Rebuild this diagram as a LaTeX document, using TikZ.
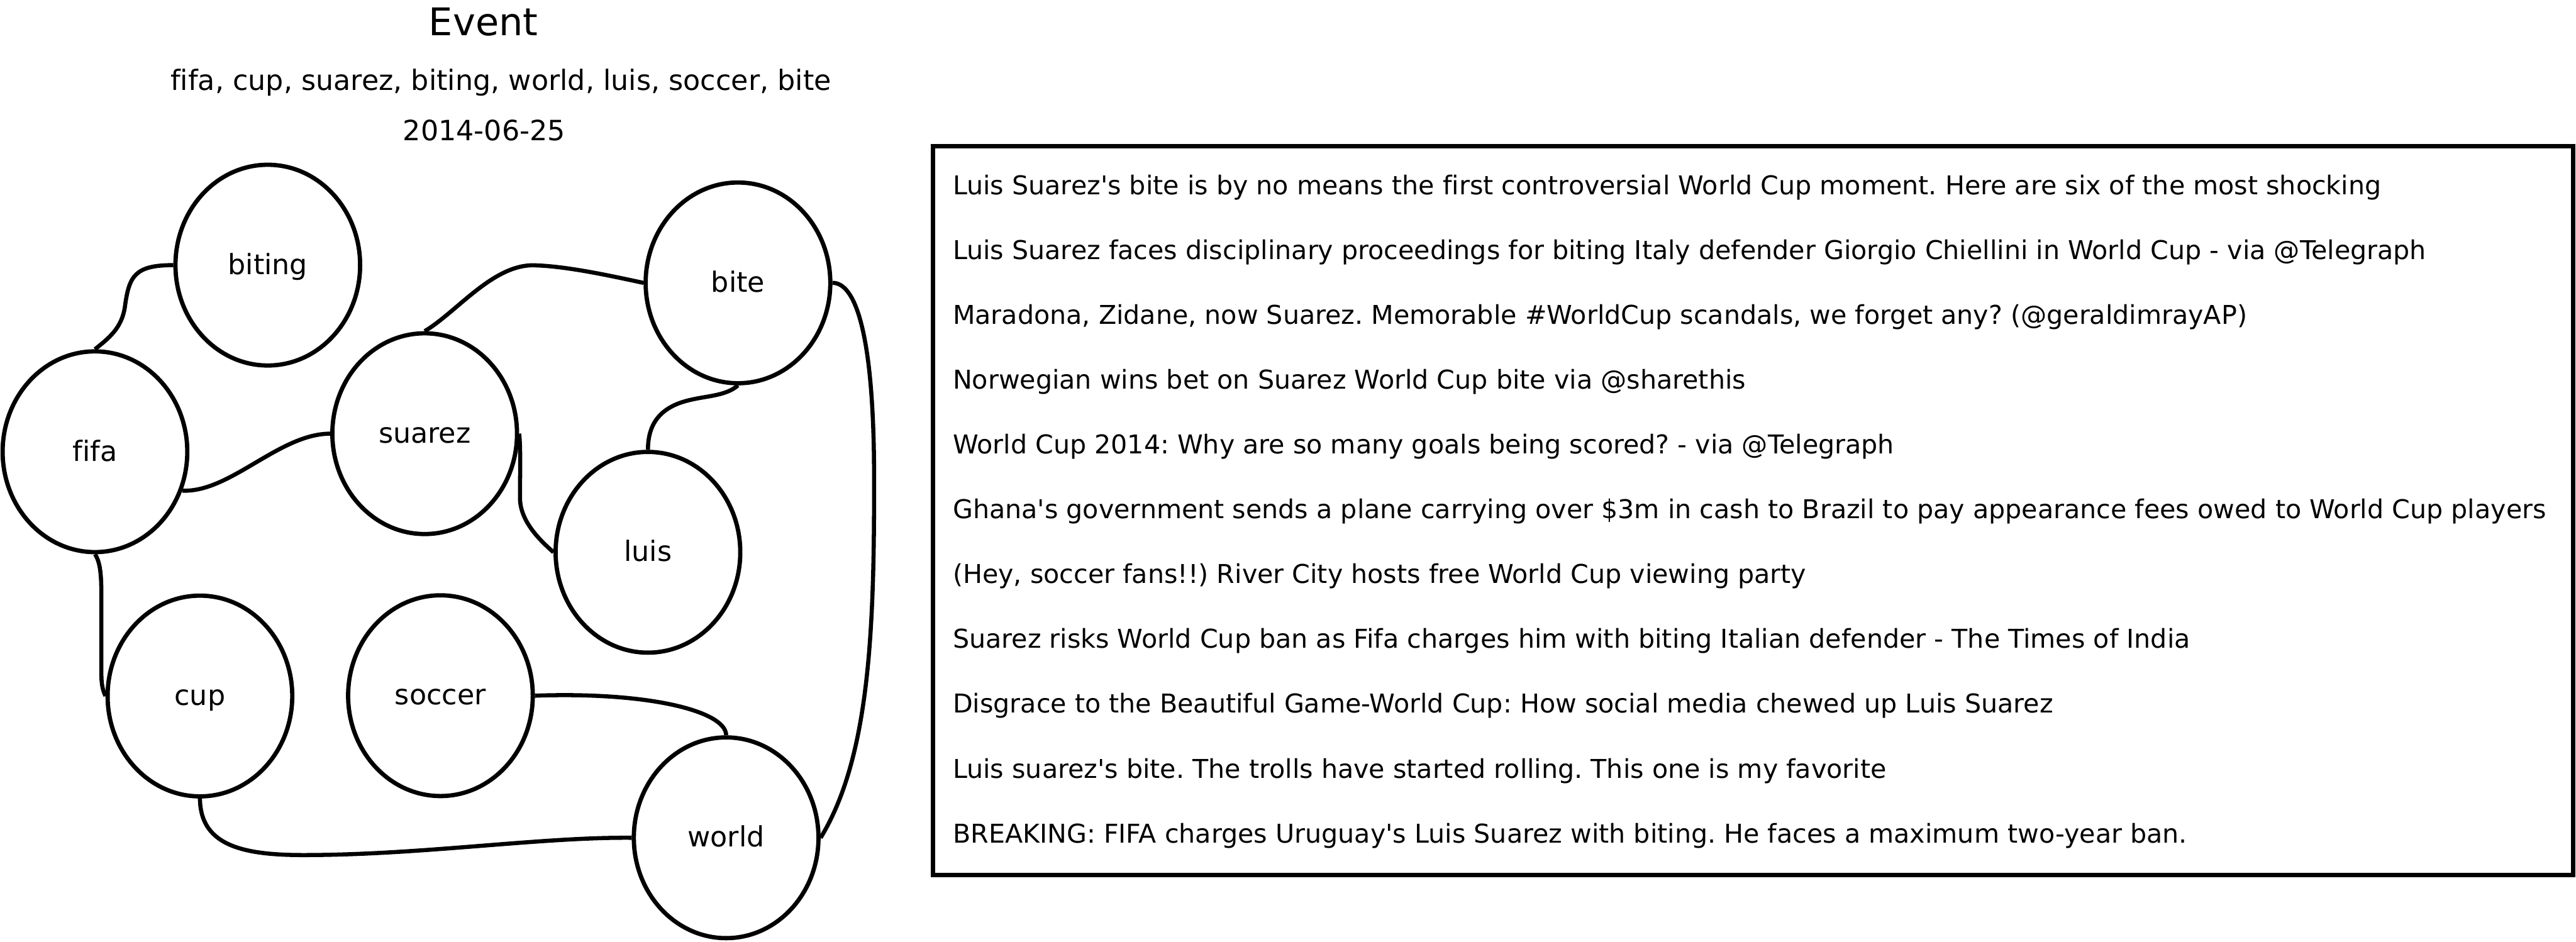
\documentclass[tikz,border=0pt]{standalone}
\usepackage{fontspec}
\newfontfamily\djv{DejaVu Sans}[Ligatures=NoCommon]
\usetikzlibrary{shapes.geometric}
\frenchspacing
\begin{document}
\begin{tikzpicture}[x=1pt,y=-1pt,
  kw/.style={ellipse,draw,line width=2.6pt,minimum width=112.4pt,minimum height=122.2pt,
    inner sep=0pt,text height=12.2pt,text depth=1pt,font=\djv\fontsize{17}{20}\selectfont},
  edge/.style={line width=2.5pt},
  ttl/.style={anchor=base,inner sep=0pt,font=\djv\fontsize{23.2}{28}\selectfont},
  sub/.style={anchor=base,inner sep=0pt,font=\djv\fontsize{17}{20}\selectfont},
  tw/.style={anchor=base west,inner sep=0pt,font=\djv\fontsize{15.77}{19}\selectfont\frenchspacing},
  panel/.style={draw,line width=2.7pt,rectangle,inner sep=0pt}]
\useasboundingbox (0,0) rectangle (1568,573.2);

% header
\node[ttl] (title) at (294.3,21.8) {Event};
\node[sub] (keys) at (304.9,55.1) {fifa, cup, suarez, biting, world, luis, soccer, bite};
\node[sub] (date) at (294.7,85.7) {2014-06-25};

% keyword nodes
\node[kw] (biting) at (163,161.4) {biting};
\node[kw] (fifa) at (57.8,275) {fifa};
\node[kw] (suarez) at (258.5,264) {suarez};
\node[kw] (bite) at (449.2,172.2) {bite};
\node[kw] (luis) at (394.4,336.2) {luis};
\node[kw] (cup) at (121.7,423.7) {cup};
\node[kw] (soccer) at (268.1,423.5) {soccer};
\node[kw] (world) at (442,510) {world};

% edges
\draw[edge] (fifa.north) .. controls (66,206) and (74,200) .. (76,187)
  .. controls (78.5,168) and (82,161.4) .. (biting.west);
\draw[edge] (fifa.-24) .. controls (140,300) and (170,264) .. (suarez.west);
\draw[edge] (suarez.north) .. controls (278,190) and (300,161) .. (325,161.5)
  .. controls (345,162) and (372,168) .. (bite.west);
\draw[edge] (suarez.east) .. controls (317,272) and (316.5,290) .. (316.5,303)
  .. controls (316.5,318) and (330,330) .. (luis.west);
\draw[edge] (bite.south) .. controls (442,241) and (430,241) .. (420,243.5)
  .. controls (400,248) and (394.4,260) .. (luis.north);
\draw[edge] (bite.east) .. controls (520,172) and (531,200) .. (532,280)
  .. controls (532.5,380) and (530,460) .. (world.east);
\draw[edge] (fifa.south) .. controls (61,342) and (61.7,350) .. (61.7,362)
  -- (61.7,410) .. controls (61.7,418) and (63,421) .. (cup.west);
\draw[edge] (cup.south) .. controls (122,516) and (150,521) .. (190,520.5)
  .. controls (260,520) and (330,509.5) .. (world.west);
\draw[edge] (soccer.east) .. controls (395,421) and (442,433) .. (world.north);

% tweet panel
\node[panel,minimum width=998.35pt,minimum height=443.65pt] (panel) at (1067.2,310.7) {};
\node[tw] (t1) at (579.8,118.4) {Luis Suarez's bite is by no means the first controversial World Cup moment. Here are six of the most shocking};
\node[tw] (t2) at (579.8,157.86) {Luis Suarez faces disciplinary proceedings for biting Italy defender Giorgio Chiellini in World Cup - via @Telegraph};
\node[tw] (t3) at (579.8,197.32) {Maradona, Zidane, now Suarez. Memorable \#WorldCup scandals, we forget any? (@geraldimrayAP)};
\node[tw] (t4) at (579.8,236.78) {Norwegian wins bet on Suarez World Cup bite via @sharethis};
\node[tw] (t5) at (579.8,276.24) {World Cup 2014: Why are so many goals being scored? - via @Telegraph};
\node[tw] (t6) at (579.8,315.7) {Ghana's government sends a plane carrying over \$3m in cash to Brazil to pay appearance fees owed to World Cup players};
\node[tw] (t7) at (579.8,355.16) {(Hey, soccer fans!!) River City hosts free World Cup viewing party};
\node[tw] (t8) at (579.8,394.62) {Suarez risks World Cup ban as Fifa charges him with biting Italian defender - The Times of India};
\node[tw] (t9) at (579.8,434.08) {Disgrace to the Beautiful Game-World Cup: How social media chewed up Luis Suarez};
\node[tw] (t10) at (579.8,473.54) {Luis suarez's bite. The trolls have started rolling. This one is my favorite};
\node[tw] (t11) at (579.8,513.0) {BREAKING: FIFA charges Uruguay's Luis Suarez with biting. He faces a maximum two-year ban.};
\end{tikzpicture}
\end{document}
